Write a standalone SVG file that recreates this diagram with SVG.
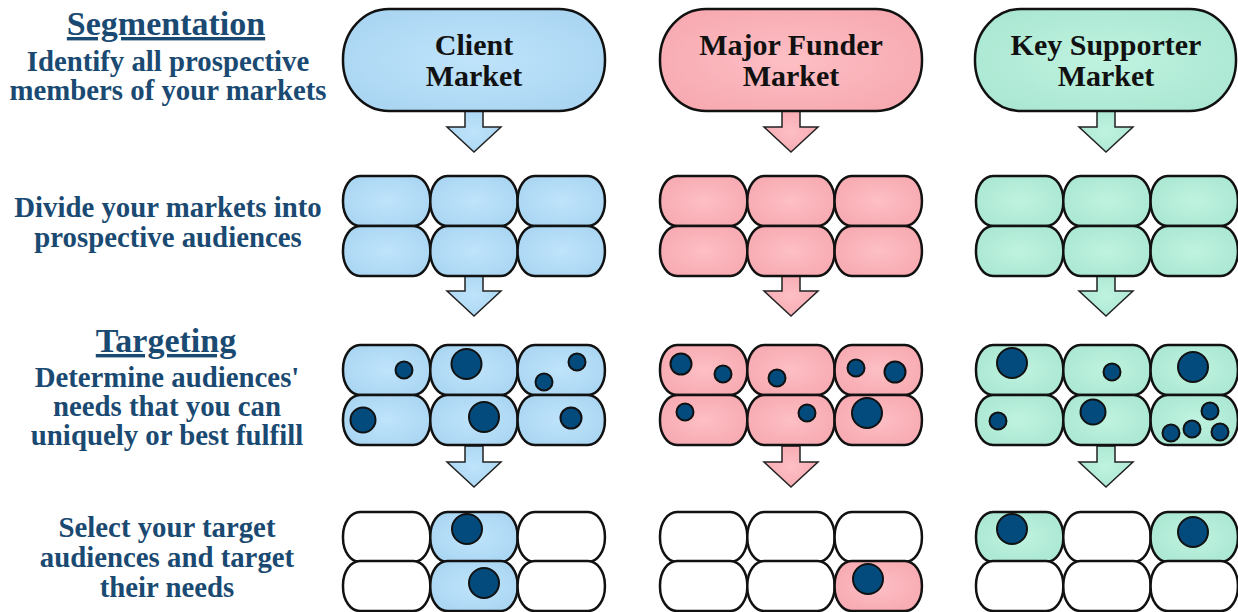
<svg xmlns="http://www.w3.org/2000/svg" width="1238" height="612" viewBox="0 0 1238 612">
  <defs>
    <radialGradient id="gBlue" cx="0.5" cy="0.5" r="0.6">
      <stop offset="0" stop-color="#bfe4fb"/>
      <stop offset="1" stop-color="#a9d5f2"/>
    </radialGradient>
    <radialGradient id="gPink" cx="0.5" cy="0.5" r="0.6">
      <stop offset="0" stop-color="#fdbfc5"/>
      <stop offset="1" stop-color="#f7a9b0"/>
    </radialGradient>
    <radialGradient id="gGreen" cx="0.5" cy="0.5" r="0.6">
      <stop offset="0" stop-color="#bff3e0"/>
      <stop offset="1" stop-color="#aae7d2"/>
    </radialGradient>
    <style>
      .lbl { font-family: "Liberation Serif", "DejaVu Serif", serif; font-weight: bold; fill: #1a4a72; text-anchor: middle; }
      .hdr { font-size: 34px; text-decoration: underline; }
      .sub { font-size: 28.8px; }
      .pilltxt { font-family: "Liberation Serif", "DejaVu Serif", serif; font-weight: bold; font-size: 30px; fill: #111; text-anchor: middle; }
      .pill { stroke: #111; stroke-width: 2.5; }
      .cell { stroke: #111; stroke-width: 2.5; }
      .empty { fill: #fff; }
      .arrow { stroke: #222; stroke-width: 1.5; stroke-linejoin: miter; }
      .dot { fill: #034b7d; stroke: #111; stroke-width: 2; }
      .blue { fill: url(#gBlue); }
      .pink { fill: url(#gPink); }
      .green { fill: url(#gGreen); }
    </style>
    <rect id="c" width="87.3" height="50" rx="17" ry="24"/>
    <polygon id="arr" points="-9,0 9,0 9,16 27,16 0,41 -27,16 -9,16"/>
  </defs>

  <!-- left-hand step descriptions -->
  <g id="labels">
    <text class="lbl hdr" x="166" y="35">Segmentation</text>
    <text class="lbl sub" x="168" y="71">Identify all prospective</text>
    <text class="lbl sub" x="168" y="100">members of your markets</text>
    <text class="lbl sub" x="168" y="217">Divide your markets into</text>
    <text class="lbl sub" x="168" y="247">prospective audiences</text>
    <text class="lbl hdr" x="166" y="352">Targeting</text>
    <text class="lbl sub" x="167" y="387">Determine audiences'</text>
    <text class="lbl sub" x="167" y="416">needs that you can</text>
    <text class="lbl sub" x="167" y="445">uniquely or best fulfill</text>
    <text class="lbl sub" x="167" y="537">Select your target</text>
    <text class="lbl sub" x="167" y="567">audiences and target</text>
    <text class="lbl sub" x="167" y="597">their needs</text>
  </g>

  <!-- arrows between stages -->
  <g id="connectors">
    <use href="#arr" class="arrow blue" x="474" y="111"/>
    <use href="#arr" class="arrow blue" x="474" y="275"/>
    <use href="#arr" class="arrow blue" x="474" y="446"/>
    <use href="#arr" class="arrow pink" x="791" y="111"/>
    <use href="#arr" class="arrow pink" x="791" y="275"/>
    <use href="#arr" class="arrow pink" x="791" y="446"/>
    <use href="#arr" class="arrow green" x="1106" y="111"/>
    <use href="#arr" class="arrow green" x="1106" y="275"/>
    <use href="#arr" class="arrow green" x="1106" y="446"/>
  </g>

  <!-- client market column -->
  <g id="client-market">
    <rect class="pill blue" x="343" y="9" width="262" height="102" rx="46" ry="50"/>
    <text class="pilltxt" x="474" y="55">Client</text>
    <text class="pilltxt" x="474" y="86">Market</text>
  </g>
  <g id="client-audiences">
    <use href="#c" class="cell blue" x="343" y="176"/>
    <use href="#c" class="cell blue" x="430.3" y="176"/>
    <use href="#c" class="cell blue" x="517.6" y="176"/>
    <use href="#c" class="cell blue" x="343" y="226"/>
    <use href="#c" class="cell blue" x="430.3" y="226"/>
    <use href="#c" class="cell blue" x="517.6" y="226"/>
  </g>
  <g id="client-needs">
    <use href="#c" class="cell blue" x="343" y="345"/>
    <use href="#c" class="cell blue" x="430.3" y="345"/>
    <use href="#c" class="cell blue" x="517.6" y="345"/>
    <use href="#c" class="cell blue" x="343" y="395"/>
    <use href="#c" class="cell blue" x="430.3" y="395"/>
    <use href="#c" class="cell blue" x="517.6" y="395"/>
    <circle class="dot" cx="404" cy="370" r="8.5"/>
    <circle class="dot" cx="466.5" cy="364" r="15"/>
    <circle class="dot" cx="577" cy="362" r="8.5"/>
    <circle class="dot" cx="544" cy="382" r="8.5"/>
    <circle class="dot" cx="363" cy="420" r="12.5"/>
    <circle class="dot" cx="484" cy="417" r="15"/>
    <circle class="dot" cx="571" cy="418" r="10.5"/>
  </g>
  <g id="client-targets">
    <use href="#c" class="cell empty" x="343" y="512"/>
    <use href="#c" class="cell blue" x="430.3" y="512"/>
    <use href="#c" class="cell empty" x="517.6" y="512"/>
    <use href="#c" class="cell empty" x="343" y="561"/>
    <use href="#c" class="cell blue" x="430.3" y="561"/>
    <use href="#c" class="cell empty" x="517.6" y="561"/>
    <circle class="dot" cx="467" cy="529" r="15"/>
    <circle class="dot" cx="484" cy="583" r="15"/>
  </g>

  <!-- major funder market column -->
  <g id="funder-market">
    <rect class="pill pink" x="660" y="9" width="262" height="102" rx="46" ry="50"/>
    <text class="pilltxt" x="791" y="55">Major Funder</text>
    <text class="pilltxt" x="791" y="86">Market</text>
  </g>
  <g id="funder-audiences">
    <use href="#c" class="cell pink" x="660" y="176"/>
    <use href="#c" class="cell pink" x="747.3" y="176"/>
    <use href="#c" class="cell pink" x="834.6" y="176"/>
    <use href="#c" class="cell pink" x="660" y="226"/>
    <use href="#c" class="cell pink" x="747.3" y="226"/>
    <use href="#c" class="cell pink" x="834.6" y="226"/>
  </g>
  <g id="funder-needs">
    <use href="#c" class="cell pink" x="660" y="345"/>
    <use href="#c" class="cell pink" x="747.3" y="345"/>
    <use href="#c" class="cell pink" x="834.6" y="345"/>
    <use href="#c" class="cell pink" x="660" y="395"/>
    <use href="#c" class="cell pink" x="747.3" y="395"/>
    <use href="#c" class="cell pink" x="834.6" y="395"/>
    <circle class="dot" cx="681" cy="364" r="10.5"/>
    <circle class="dot" cx="723" cy="374" r="8.5"/>
    <circle class="dot" cx="777" cy="378" r="8.5"/>
    <circle class="dot" cx="856" cy="368" r="8.5"/>
    <circle class="dot" cx="895" cy="372" r="10.5"/>
    <circle class="dot" cx="685" cy="412" r="8.5"/>
    <circle class="dot" cx="807" cy="413" r="8.5"/>
    <circle class="dot" cx="867" cy="413" r="15"/>
  </g>
  <g id="funder-targets">
    <use href="#c" class="cell empty" x="660" y="512"/>
    <use href="#c" class="cell empty" x="747.3" y="512"/>
    <use href="#c" class="cell empty" x="834.6" y="512"/>
    <use href="#c" class="cell empty" x="660" y="561"/>
    <use href="#c" class="cell empty" x="747.3" y="561"/>
    <use href="#c" class="cell pink" x="834.6" y="561"/>
    <circle class="dot" cx="868" cy="579" r="15"/>
  </g>

  <!-- key supporter market column -->
  <g id="supporter-market">
    <rect class="pill green" x="975" y="9" width="261" height="102" rx="46" ry="50"/>
    <text class="pilltxt" x="1106" y="55">Key Supporter</text>
    <text class="pilltxt" x="1106" y="86">Market</text>
  </g>
  <g id="supporter-audiences">
    <use href="#c" class="cell green" x="976" y="176"/>
    <use href="#c" class="cell green" x="1063.3" y="176"/>
    <use href="#c" class="cell green" x="1150.6" y="176"/>
    <use href="#c" class="cell green" x="976" y="226"/>
    <use href="#c" class="cell green" x="1063.3" y="226"/>
    <use href="#c" class="cell green" x="1150.6" y="226"/>
  </g>
  <g id="supporter-needs">
    <use href="#c" class="cell green" x="976" y="345"/>
    <use href="#c" class="cell green" x="1063.3" y="345"/>
    <use href="#c" class="cell green" x="1150.6" y="345"/>
    <use href="#c" class="cell green" x="976" y="395"/>
    <use href="#c" class="cell green" x="1063.3" y="395"/>
    <use href="#c" class="cell green" x="1150.6" y="395"/>
    <circle class="dot" cx="1012" cy="363" r="15"/>
    <circle class="dot" cx="1112" cy="372" r="8.5"/>
    <circle class="dot" cx="1193" cy="367" r="15"/>
    <circle class="dot" cx="998" cy="421" r="8.5"/>
    <circle class="dot" cx="1093" cy="412" r="12.5"/>
    <circle class="dot" cx="1210" cy="411" r="8.5"/>
    <circle class="dot" cx="1171" cy="433" r="8.5"/>
    <circle class="dot" cx="1192" cy="429" r="8.5"/>
    <circle class="dot" cx="1220" cy="432" r="8.5"/>
  </g>
  <g id="supporter-targets">
    <use href="#c" class="cell green" x="976" y="512"/>
    <use href="#c" class="cell empty" x="1063.3" y="512"/>
    <use href="#c" class="cell green" x="1150.6" y="512"/>
    <use href="#c" class="cell empty" x="976" y="561"/>
    <use href="#c" class="cell empty" x="1063.3" y="561"/>
    <use href="#c" class="cell empty" x="1150.6" y="561"/>
    <circle class="dot" cx="1012" cy="529" r="15"/>
    <circle class="dot" cx="1193" cy="532" r="15"/>
  </g>
</svg>
